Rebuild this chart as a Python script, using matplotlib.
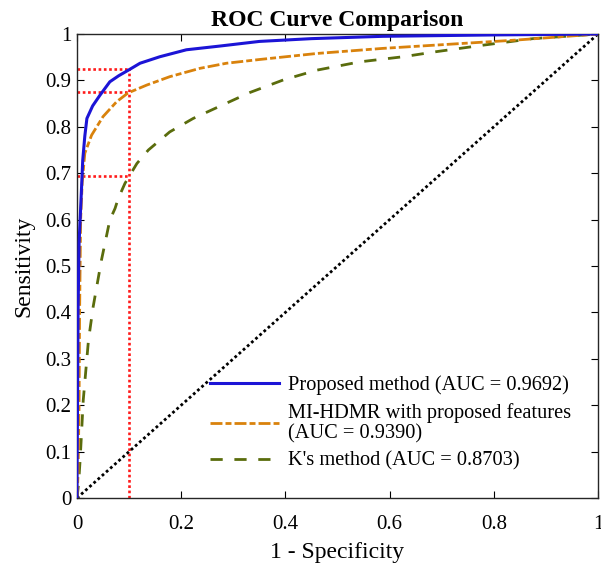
import matplotlib
matplotlib.use("Agg")
import matplotlib.pyplot as plt

plt.rcParams['font.family'] = ['Liberation Serif', 'DejaVu Serif']

# Data
blue_fpr = [0, 0.000, 0.001, 0.002, 0.004, 0.008, 0.011, 0.015, 0.019, 0.03, 0.044, 0.063, 0.08, 0.0985,
            0.121, 0.159, 0.21, 0.274, 0.35, 0.45, 0.587, 0.8, 1.0]
blue_tpr = [0, 0.05, 0.2, 0.4, 0.55, 0.65, 0.728, 0.78, 0.818, 0.845, 0.868, 0.897, 0.91, 0.922,
            0.937, 0.951, 0.966, 0.974, 0.984, 0.99, 0.995, 0.998, 1.0]

orange_fpr = [0, 0.002, 0.004, 0.005, 0.007, 0.01, 0.015, 0.028, 0.05, 0.076, 0.098, 0.134, 0.178,
              0.236, 0.287, 0.35, 0.46, 0.587, 0.716, 0.844, 1.0]
orange_tpr = [0, 0.05, 0.2, 0.4, 0.6, 0.68, 0.743, 0.782, 0.822, 0.854, 0.873, 0.89, 0.908,
              0.926, 0.937, 0.945, 0.958, 0.969, 0.978, 0.987, 1.0]

green_fpr = [0, 0.003, 0.006, 0.012, 0.022, 0.031, 0.047, 0.063, 0.073, 0.079, 0.092, 0.115, 0.137,
             0.178, 0.223, 0.287, 0.332, 0.396, 0.46, 0.543, 0.626, 0.69, 0.78, 0.875, 1.0]
green_tpr = [0, 0.03, 0.082, 0.211, 0.34, 0.412, 0.513, 0.599, 0.624, 0.645, 0.678, 0.721, 0.75,
             0.789, 0.818, 0.851, 0.874, 0.901, 0.922, 0.94, 0.951, 0.962, 0.976, 0.99, 1.0]

labels = ["Proposed method (AUC = 0.9692)",
          "MI-HDMR with proposed features\n(AUC = 0.9390)",
          "K's method (AUC = 0.8703)"]

op_fpr = 0.1
op_tpr = [0.925, 0.875, 0.693]

xticks = [0, 0.2, 0.4, 0.6, 0.8, 1]
xticklabels = ["0", "0.2", "0.4", "0.6", "0.8", "1"]
yticks = [0, 0.1, 0.2, 0.3, 0.4, 0.5, 0.6, 0.7, 0.8, 0.9, 1]
yticklabels = ["0", "0.1", "0.2", "0.3", "0.4", "0.5", "0.6", "0.7", "0.8", "0.9", "1"]

fig = plt.figure(figsize=(6.01, 5.63), dpi=100)
ax = fig.add_axes([77/601, 1-498/563, 521/601, 464/563])

c_blue = '#1c14d6'
c_orange = '#d9820c'
c_green = '#5a6c0c'
c_red = '#ff1a1a'

# red operating-point guides
ax.plot([op_fpr, op_fpr], [0, max(op_tpr)], color=c_red, lw=1.9, dashes=(1, 1), zorder=2)
for t in op_tpr:
    ax.plot([0, op_fpr], [t, t], color=c_red, lw=1.9, dashes=(1, 1), zorder=2)

l1, = ax.plot(blue_fpr, blue_tpr, color=c_blue, lw=2.2, zorder=5)
l2, = ax.plot(orange_fpr, orange_tpr, color=c_orange, lw=2, dashes=(4.3, 1.1, 2.15, 1.1), zorder=4)
l3, = ax.plot(green_fpr, green_tpr, color=c_green, lw=2, dashes=(4.4, 4.2), zorder=3)
ax.plot([0, 1], [0, 1], color='black', lw=2, dashes=(1, 1), zorder=3)

ax.set_xlim(0, 1)
ax.set_ylim(0, 1)
ax.set_xticks(xticks)
ax.set_xticklabels(xticklabels)
ax.set_yticks(yticks)
ax.set_yticklabels(yticklabels)
ax.tick_params(direction='in', length=5, width=0.8, top=True, right=True, labelsize=15)
ax.tick_params(axis='x', pad=12.5)
ax.tick_params(axis='y', pad=4)
for s in ax.spines.values():
    s.set_linewidth(1.0)
    s.set_color('#262626')

ax.set_title("ROC Curve Comparison", fontsize=17, fontweight='bold', pad=6)
ax.set_xlabel("1 - Specificity", fontsize=17, labelpad=5.5)
ax.set_ylabel("Sensitivity", fontsize=17, labelpad=8)

leg = ax.legend([l1, l2, l3], labels, loc='upper left', bbox_to_anchor=((210-77)/521, (498-375)/464),
                frameon=False, fontsize=14.7, handlelength=3.4, handletextpad=0.4, labelspacing=0.4,
                borderaxespad=0, borderpad=0)
for t in leg.get_texts():
    t.set_linespacing(1.1)

fig.savefig("out.png", dpi=100)
